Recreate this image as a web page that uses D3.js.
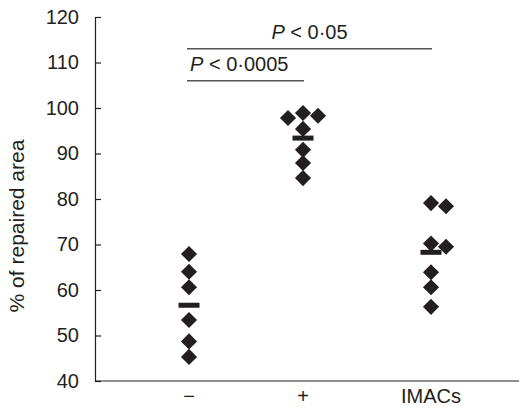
<!DOCTYPE html>
<meta charset="utf-8">
<script src="https://d3js.org/d3.v7.min.js"></script>
<style>
  body { margin: 0; background: #fff; }
  text { font-family: "Liberation Sans", Arial, sans-serif; fill: #231f20; }
</style>
<svg id="chart" width="519" height="418"></svg>
<script>
// groups and measured values (% of repaired area)
var groups = ["\u2212", "+", "IMACs"];
var controlVals = [67.9, 64.0, 60.6, 53.4, 48.7, 45.3];
var plusVals = [98.9, 98.3, 97.8, 95.4, 90.8, 87.9, 84.6];
var imacVals = [79.1, 78.4, 70.2, 69.5, 63.9, 60.6, 56.3];
var yTicks = [40, 50, 60, 70, 80, 90, 100, 110, 120];

// significance brackets
var sigFrom = ["\u2212", "\u2212"];
var sigTo = ["+", "IMACs"];
var sigLevel = [106, 113];
var sigLabel = ["0\u00b70005", "0\u00b705"];

var svg = d3.select("#chart"),
    width = +svg.attr("width"),
    height = +svg.attr("height");

var y = d3.scaleLinear().domain([40, 120]).range([381, 17]);
var x = d3.scaleOrdinal().domain(groups).range([189, 303, 431]);

var ink = "#231f20";
var fs = "20px";

// y axis, ticks point inward
var yAxis = svg.append("g")
    .attr("transform", "translate(95,0)")
    .call(d3.axisLeft(y).tickValues(yTicks).tickSize(-6).tickPadding(16).tickSizeOuter(0));
yAxis.select(".domain").attr("stroke", ink).attr("stroke-width", 1.2);
yAxis.selectAll(".tick line").attr("stroke", ink).attr("stroke-width", 1.2);
yAxis.selectAll(".tick text")
    .style("font-size", fs)
    .attr("fill", ink);

// x axis line + labels
svg.append("line")
    .attr("x1", 95).attr("x2", width)
    .attr("y1", y(40)).attr("y2", y(40))
    .attr("stroke", ink).attr("stroke-width", 1.2);

svg.selectAll(".xlab")
  .data(groups)
  .enter().append("text")
    .attr("x", function(d){ return x(d) })
    .attr("y", 403)
    .attr("text-anchor", "middle")
    .style("font-size", fs)
    .text(function(d){ return d });

// y title
svg.append("text")
    .attr("transform", "translate(24," + ((y(40)+y(120))/2 + 27) + ") rotate(-90)")
    .attr("text-anchor", "middle")
    .style("font-size", "21px")
    .text("% of repaired area");

// place diamonds: centre column, if it overlaps try right then left
function dodge(vals) {
  var placed = [];
  var sorted = vals.slice().sort(d3.descending);
  sorted.forEach(function(v){
    var cols = [0, 1, -1];
    for (var i = 0; i < cols.length; i++) {
      var hit = placed.some(function(p){ return p.col == cols[i] && Math.abs(y(p.v) - y(v)) < 12 });
      if (!hit) { placed.push({v: v, col: cols[i]}); break; }
    }
  });
  return placed;
}

var series = [controlVals, plusVals, imacVals];
var diamond = d3.symbol().type(d3.symbolSquare).size(130);

series.forEach(function(vals, gi){
  var g = groups[gi];
  svg.append("g").selectAll("path")
    .data(dodge(vals))
    .enter().append("path")
      .attr("d", diamond)
      .attr("transform", function(d){ return "translate(" + (x(g) + d.col*15) + "," + y(d.v) + ") rotate(45)" })
      .attr("fill", ink);

  // mean bar
  var m = d3.mean(vals);
  svg.append("rect")
    .attr("x", x(g) - 10.5)
    .attr("y", y(m) - 2.5)
    .attr("width", 21)
    .attr("height", 5)
    .attr("fill", ink);
});

// brackets
sigLevel.forEach(function(lv, i){
  var x1 = x(sigFrom[i]) - 2, x2 = x(sigTo[i]) + 1;
  svg.append("line")
    .attr("x1", x1).attr("x2", x2)
    .attr("y1", y(lv)).attr("y2", y(lv))
    .attr("stroke", "#555").attr("stroke-width", 1.5);
  var t = svg.append("text")
    .attr("y", y(lv) - 10)
    .style("font-size", fs);
  if (i == 0) t.attr("x", x1 + 3).attr("text-anchor", "start");
  else t.attr("x", (x1 + x2)/2).attr("text-anchor", "middle");
  t.append("tspan").style("font-style", "italic").text("P");
  t.append("tspan").text(" < " + sigLabel[i]);
});
</script>
